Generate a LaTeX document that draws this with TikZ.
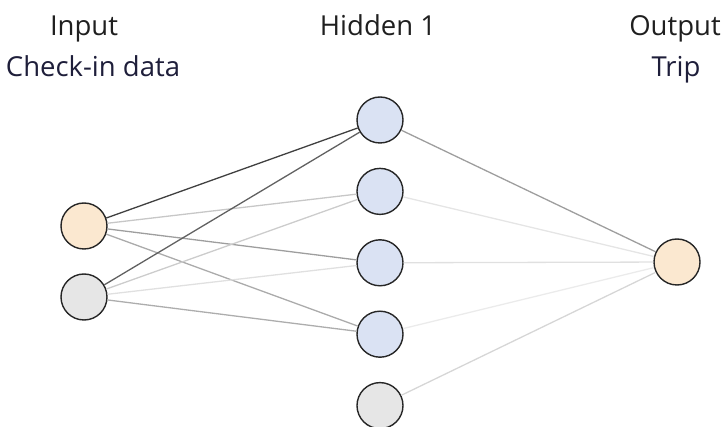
\documentclass[tikz,border=0pt]{standalone}
\usepackage{fontspec}
\setmainfont{Open Sans}
\usetikzlibrary{positioning}

\definecolor{inorange}{HTML}{FBE8D0}
\definecolor{hidblue}{HTML}{DAE2F3}
\definecolor{biasgray}{HTML}{E6E6E6}
\definecolor{labelink}{HTML}{1E1E3A}

\tikzstyle{neuron}=[circle,draw=black!85,line width=1.4pt,minimum size=46pt,inner sep=0pt]
\tikzstyle{title}=[anchor=base,inner sep=0pt,font=\fontsize{27.5}{31}\selectfont,text=black!88]
\tikzstyle{subtitle}=[anchor=base,inner sep=0pt,font=\fontsize{27.5}{31}\selectfont,text=labelink]
\tikzstyle{link}=[line width=1.3pt]

\begin{document}
\begin{tikzpicture}[x=1pt,y=-1pt]
  \useasboundingbox (0,0) rectangle (726,427);

  % layer titles
  \node[title] (tin) at (84,36) {Input};
  \node[subtitle] (sin) at (93,77) {Check-in data};
  \node[title] (thid) at (378,36) {Hidden 1};
  \node[title] (tout) at (675,36) {Output};
  \node[subtitle] (sout) at (676,77) {Trip};

  % input layer
  \node[neuron,fill=inorange] (in1) at (84,226) {};
  \node[neuron,fill=biasgray] (in2) at (84,297) {};

  % hidden layer
  \node[neuron,fill=hidblue] (h1) at (380,120) {};
  \node[neuron,fill=hidblue,below=24pt of h1] (h2) {};
  \node[neuron,fill=hidblue,below=24pt of h2] (h3) {};
  \node[neuron,fill=hidblue,below=24pt of h3] (h4) {};
  \node[neuron,fill=biasgray,below=24pt of h4] (h5) {};

  % output layer
  \node[neuron,fill=inorange] (out) at (677,262) {};

  % weights from input
  \draw[link,black!75] (in1) -- (h1);
  \draw[link,black!22] (in1) -- (h2);
  \draw[link,black!38] (in1) -- (h3);
  \draw[link,black!33] (in1) -- (h4);
  \draw[link,black!62] (in2) -- (h1);
  \draw[link,black!20] (in2) -- (h2);
  \draw[link,black!12] (in2) -- (h3);
  \draw[link,black!32] (in2) -- (h4);

  % weights to output
  \draw[link,black!38] (h1) -- (out);
  \draw[link,black!10] (h2) -- (out);
  \draw[link,black!12] (h3) -- (out);
  \draw[link,black!8] (h4) -- (out);
  \draw[link,black!16] (h5) -- (out);
\end{tikzpicture}
\end{document}
